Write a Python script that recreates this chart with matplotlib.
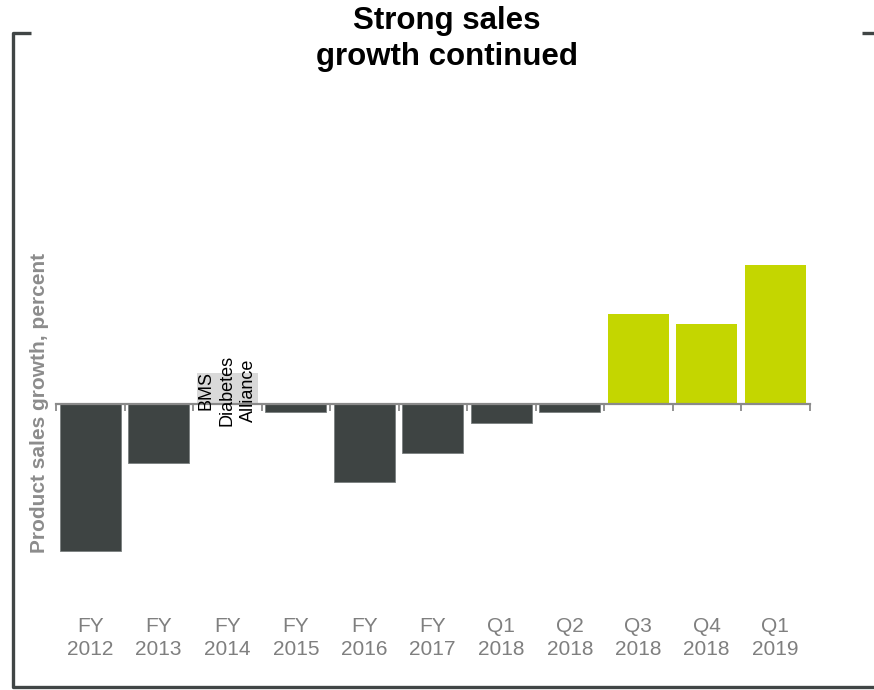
import matplotlib
matplotlib.use("Agg")
import matplotlib.pyplot as plt
from matplotlib.lines import Line2D
import matplotlib.transforms as mtransforms
import numpy as np

plt.rcParams['font.family'] = ['Liberation Sans', 'DejaVu Sans']

# Product sales growth by period
periods = ["FY\n2012", "FY\n2013", "FY\n2014", "FY\n2015", "FY\n2016", "FY\n2017",
           "Q1\n2018", "Q2\n2018", "Q3\n2018", "Q4\n2018", "Q1\n2019"]
growth = [-14.7, -5.9, 3.1, -0.8, -7.8, -4.9, -1.9, -0.8, 9.0, 8.0, 13.9]
# period kinds: 'decline', 'alliance', 'growth'
kinds = ["decline", "decline", "alliance", "decline", "decline", "decline",
         "decline", "decline", "growth", "growth", "growth"]
alliance_note = "BMS\nDiabetes\nAlliance"
title = "Strong sales\ngrowth continued"
ylabel = "Product sales growth, percent"

DARK = "#3e4443"
GREEN = "#c4d600"
LIGHT = "#d9d9d9"
AXIS_GREY = "#8a8a8a"
FRAME = "#404545"

W, H = 874, 690
fig = plt.figure(figsize=(W / 100, H / 100), dpi=100)
ax = fig.add_axes([56 / W, 90 / H, 753.5 / W, 500 / H])

x = np.arange(len(periods))
fill = {"decline": DARK, "alliance": LIGHT, "growth": GREEN}
for xi, v, k in zip(x, growth, kinds):
    edge = "#7a7f7f" if k == "decline" else fill[k]
    ax.bar(xi, v, width=0.89, color=fill[k], edgecolor=edge,
           linewidth=0.6 if k == "decline" else 0, zorder=1)

ax.set_xlim(-0.5, len(periods) - 0.5)
ax.set_ylim(-19.6, 30.4)

# zero line with boundary ticks
for s in ("left", "right", "top"):
    ax.spines[s].set_visible(False)
ax.spines["bottom"].set_position(("data", 0))
ax.spines["bottom"].set_color(AXIS_GREY)
ax.spines["bottom"].set_linewidth(1.6)
ax.set_xticks(np.arange(-0.5, len(periods)))
ax.tick_params(axis="x", direction="out", length=5, width=1.3, color=AXIS_GREY,
               labelbottom=False)
ax.set_yticks([])

# category labels along the bottom
trans = mtransforms.blended_transform_factory(ax.transData, fig.transFigure)
for xi, lab in zip(x, periods):
    ax.text(xi, 1 - 638 / H, lab, transform=trans, ha="center", va="center",
            fontsize=15, color="#7f7f7f", linespacing=1.28)

# note inside the alliance bar
ai = kinds.index("alliance")
ax.text(x[ai], 1.4, alliance_note, rotation=90, ha="center", va="center",
        multialignment="center", fontsize=13, color="black", linespacing=1.3)

fig.text(40 / W, 1 - 403 / H, ylabel, rotation=90, ha="center", va="center",
         fontsize=15, fontweight="bold", color="#8c8c8c")

fig.text(447 / W, 1 - 39 / H, title, ha="center", va="center",
         fontsize=22.5, fontweight="bold", color="black", linespacing=1.25)

# outer bracket frame
def px_line(xs, ys):
    fig.add_artist(Line2D([v / W for v in xs], [1 - v / H for v in ys],
                          color=FRAME, linewidth=2.4, solid_capstyle="butt",
                          transform=fig.transFigure))

px_line([31, 13, 13, 874], [32.5, 32.5, 687, 687])
px_line([862, 874], [32.5, 32.5])

fig.savefig("out.png", dpi=100)
